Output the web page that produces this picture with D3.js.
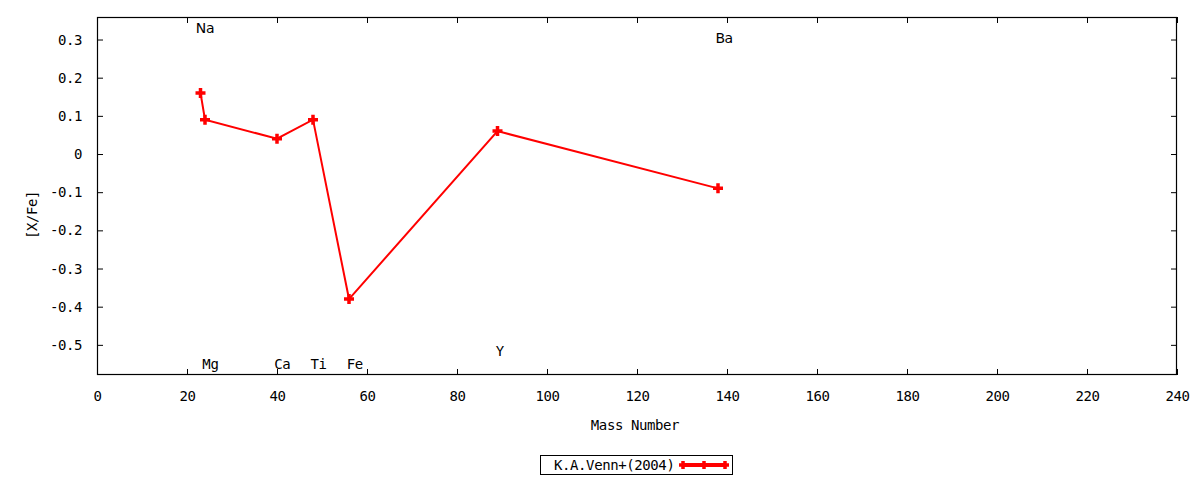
<!DOCTYPE html>
<html>
<head>
<meta charset="utf-8">
<script src="https://cdn.jsdelivr.net/npm/d3@7"></script>
<style>
    body { margin: 0; background: #fff; }
    svg { display: block; }
    text { font-family: "DejaVu Sans Mono", monospace; font-size: 14px; fill: #000; letter-spacing: -0.4px; }
</style>
</head>
<body>
<div id="chart"></div>
<script>
/* Data */
const elements = ['Na', 'Mg', 'Ca', 'Ti', 'Fe', 'Y', 'Ba'];
const massNumbers = [23, 24, 40, 48, 56, 89, 138];
const abundances = [0.16, 0.09, 0.04, 0.09, -0.38, 0.06, -0.09];

// element labels (centre position in data units)
const labelNames = ['Na', 'Mg', 'Ca', 'Ti', 'Fe', 'Y', 'Ba'];
const labelX = [24.0, 25.2, 41.15, 49.25, 57.3, 89.5, 139.35];
const labelY = [0.33, -0.55, -0.55, -0.55, -0.55, -0.515, 0.305];

const xTicks = [0, 20, 40, 60, 80, 100, 120, 140, 160, 180, 200, 220, 240];
const yTicks = [0.3, 0.2, 0.1, 0, -0.1, -0.2, -0.3, -0.4, -0.5];
const seriesName = 'K.A.Venn+(2004)';

/* Layout */
const width = 1200, height = 480;
const plot = { left: 97, right: 1177, top: 17, bottom: 375 };
const red = '#ff0000';

const svg = d3.select('#chart').append('svg')
    .attr('width', width)
    .attr('height', height);

const x = d3.scaleLinear().domain([0, 240]).range([plot.left, plot.right]);
const y = d3.scaleLinear().domain([-0.579, 0.359]).range([plot.bottom, plot.top]);

const fmt = d => (d === 0 ? '0' : d3.format('.1f')(d).replace('\u2212', '-'));

// axes with inward ticks, mirrored on top and right
const tick = 6;
svg.append('g')
    .attr('transform', `translate(0,${plot.bottom})`)
    .call(d3.axisBottom(x).tickValues(xTicks).tickSize(-tick).tickPadding(tick + 10).tickFormat(d3.format('d')))
    .call(g => g.select('.domain').remove());
svg.append('g')
    .attr('transform', `translate(0,${plot.top})`)
    .call(d3.axisTop(x).tickValues(xTicks).tickSize(-tick).tickFormat(''))
    .call(g => g.select('.domain').remove());
svg.append('g')
    .attr('transform', `translate(${plot.left},0)`)
    .call(d3.axisLeft(y).tickValues(yTicks).tickSize(-tick).tickPadding(tick + 9).tickFormat(fmt))
    .call(g => g.select('.domain').remove());
svg.append('g')
    .attr('transform', `translate(${plot.right},0)`)
    .call(d3.axisRight(y).tickValues(yTicks).tickSize(-tick).tickFormat(''))
    .call(g => g.select('.domain').remove());

svg.selectAll('.tick line').attr('stroke', '#000').attr('stroke-width', 1);
svg.selectAll('.tick text').style('font-family', '"DejaVu Sans Mono", monospace').style('font-size', '14px');

svg.append('rect')
    .attr('x', plot.left + 0.5).attr('y', plot.top + 0.5)
    .attr('width', plot.right - plot.left - 1).attr('height', plot.bottom - plot.top - 1)
    .attr('fill', 'none').attr('stroke', '#000').attr('stroke-width', 1.2);

// axis titles
svg.append('text')
    .attr('x', (plot.left + plot.right) / 2 - 2).attr('y', 430)
    .attr('text-anchor', 'middle')
    .text('Mass Number');
svg.append('text')
    .attr('transform', `translate(37,${(plot.top + plot.bottom) / 2 + 19}) rotate(-90)`)
    .attr('text-anchor', 'middle')
    .text('[X/Fe]');

// series
const pts = massNumbers.map((m, i) => [m, abundances[i]]);
svg.append('path')
    .datum(pts)
    .attr('fill', 'none')
    .attr('stroke', red)
    .attr('stroke-width', 2)
    .attr('d', d3.line().x(d => x(d[0])).y(d => y(d[1])));

const plus = (sel, s) => sel.append('path')
    .attr('d', `M${-s},0H${s}M0,${-s}V${s}`)
    .attr('stroke', red)
    .attr('stroke-width', 3.5)
    .attr('fill', 'none');

svg.selectAll('.pt')
    .data(pts)
    .enter().append('g')
    .attr('class', 'pt')
    .attr('transform', d => `translate(${x(d[0])},${y(d[1])})`)
    .each(function () { plus(d3.select(this), 5); });

// element labels
svg.selectAll('.elab')
    .data(labelNames)
    .enter().append('text')
    .attr('class', 'elab')
    .attr('x', (d, i) => x(labelX[i]))
    .attr('y', (d, i) => y(labelY[i]))
    .attr('text-anchor', 'middle')
    .attr('dominant-baseline', 'central')
    .style('font-family', d => (d === 'Na' || d === 'Ba') ? '"DejaVu Sans", sans-serif' : null)
    .text(d => d);

// legend
const lg = svg.append('g');
lg.append('rect')
    .attr('x', 540.5).attr('y', 455.5)
    .attr('width', 192).attr('height', 19)
    .attr('fill', 'none').attr('stroke', '#000').attr('stroke-width', 1);
lg.append('text')
    .attr('x', 554).attr('y', 465)
    .attr('dominant-baseline', 'central')
    .text(seriesName);
lg.append('line')
    .attr('x1', 683).attr('x2', 725).attr('y1', 465).attr('y2', 465)
    .attr('stroke', red).attr('stroke-width', 4);
[683, 704, 725].forEach(px => {
    plus(lg.append('g').attr('transform', `translate(${px},465)`), 4);
});
</script>
</body>
</html>
